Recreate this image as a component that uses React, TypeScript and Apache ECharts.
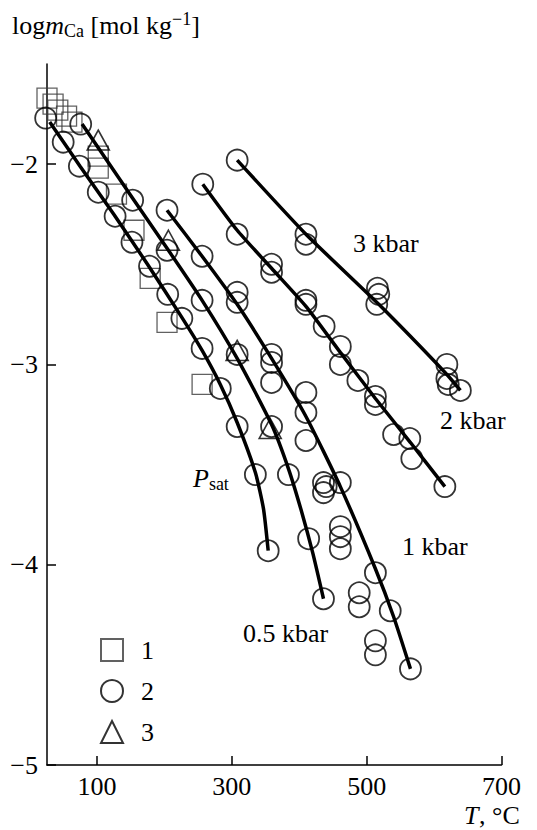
import React, { useEffect, useRef } from 'react';
import * as echarts from 'echarts';

const FONT = 'Liberation Serif, serif';

// Axis ticks
const xTicks = [100, 300, 500, 700];
const yTicks = [-5, -4, -3, -2];

// Experimental points: [T, log m]
const set1Squares: number[][] = [
  [26, -1.67], [35, -1.70], [42, -1.73], [55, -1.76], [63, -1.79],
  [102, -1.96], [102, -2.02], [129, -2.15], [155, -2.33], [179, -2.57],
  [204, -2.79], [256, -3.10],
];

const set2Circles: number[][] = [
  // along P_sat
  [24, -1.77], [50, -1.89], [74, -2.01], [102, -2.14], [127, -2.26], [152, -2.39],
  [178, -2.51], [205, -2.65], [226, -2.77], [256, -2.92], [283, -3.12], [308, -3.31],
  [335, -3.55], [354, -3.93],
  // 0.5 kbar
  [76, -1.80], [153, -2.18], [204, -2.43], [256, -2.68], [308, -2.95], [359, -3.31],
  [384, -3.55], [414, -3.87], [436, -4.17],
  // 1 kbar
  [204, -2.23], [256, -2.46], [308, -2.64], [308, -2.69], [359, -2.95], [359, -2.99],
  [359, -3.09], [410, -3.14], [410, -3.24], [410, -3.38], [436, -3.59], [440, -3.61],
  [436, -3.64], [461, -3.59], [461, -3.81], [461, -3.86], [461, -3.92], [489, -4.14],
  [489, -4.21], [513, -4.04], [535, -4.23], [513, -4.38], [513, -4.45], [565, -4.52],
  // 2 kbar
  [257, -2.10], [308, -2.35], [359, -2.50], [359, -2.54], [410, -2.68], [410, -2.70],
  [437, -2.81], [461, -2.91], [461, -3.00], [487, -3.08], [513, -3.16], [513, -3.20],
  [540, -3.35], [564, -3.37], [567, -3.47], [616, -3.61],
  // 3 kbar
  [308, -1.98], [410, -2.35], [410, -2.40], [516, -2.62], [518, -2.65], [515, -2.70],
  [619, -3.00], [619, -3.07], [621, -3.10], [639, -3.13],
];

const set3Triangles: number[][] = [
  [102, -1.88], [206, -2.38], [308, -2.93], [357, -3.32],
];

// Isobars
const curvePsat: number[][] = [
  [30, -1.79], [75, -2.01], [125, -2.25], [175, -2.50], [225, -2.76], [256, -2.93],
  [283, -3.10], [308, -3.29], [335, -3.54], [347, -3.72], [354, -3.93],
];
const curve05: number[][] = [
  [78, -1.80], [153, -2.17], [204, -2.42], [256, -2.68], [308, -2.97],
  [359, -3.30], [384, -3.52], [404, -3.74], [420, -3.94], [436, -4.17],
];
const curve1: number[][] = [
  [204, -2.23], [256, -2.46], [308, -2.70], [359, -2.97], [410, -3.26], [461, -3.61],
  [513, -4.02], [540, -4.26], [565, -4.52],
];
const curve2: number[][] = [
  [257, -2.10], [308, -2.33], [359, -2.52], [410, -2.71], [461, -2.94], [513, -3.17],
  [565, -3.39], [616, -3.61],
];
const curve3: number[][] = [
  [308, -1.98], [410, -2.35], [518, -2.70], [619, -3.05], [639, -3.13],
];

const hollow = (border: string, width: number) => ({
  color: 'rgba(0,0,0,0)',
  borderColor: border,
  borderWidth: width,
});

const curve = (data: number[][]) => ({
  type: 'line',
  data,
  smooth: 0.2,
  symbol: 'none',
  silent: true,
  lineStyle: { color: '#000', width: 3.5 },
  z: 3,
});

const minus = (v: number) => (v < 0 ? '\u2212' + Math.abs(v) : String(v));

const mainText = { fontFamily: FONT, fontSize: 26, lineHeight: 30, verticalAlign: 'middle', color: '#000' };
const italicText = { ...mainText, fontStyle: 'italic' };
const subText = { fontFamily: FONT, fontSize: 18, lineHeight: 18, verticalAlign: 'bottom', color: '#000' };
const supText = { fontFamily: FONT, fontSize: 18, lineHeight: 18, verticalAlign: 'top', color: '#000' };
const rich = { a: mainText, i: italicText, s: subText, p: supText };

const label = (x: number, y: number, text: string, italic = false) => ({
  type: 'text',
  x,
  y,
  silent: true,
  style: {
    text,
    rich,
    fill: '#000',
    fontFamily: FONT,
    fontSize: 26,
    lineHeight: 26,
    fontStyle: italic ? 'italic' : 'normal',
    align: 'left',
    verticalAlign: 'middle',
  },
});

export default function App() {
  const ref = useRef<HTMLDivElement>(null);

  useEffect(() => {
    const chart = echarts.init(ref.current!, null, { renderer: 'svg' });
    const axisLineStyle = { color: '#000', width: 1.5 };
    chart.setOption({
      animation: false,
      backgroundColor: '#fff',
      textStyle: { fontFamily: FONT },
      grid: { left: 47, right: 35.5, top: 64, bottom: 65 },
      xAxis: {
        type: 'value',
        min: 26,
        max: 700,
        axisLine: { lineStyle: axisLineStyle },
        axisTick: { inside: true, length: 9, customValues: xTicks, lineStyle: axisLineStyle },
        axisLabel: {
          customValues: xTicks,
          fontFamily: FONT,
          fontSize: 26,
          color: '#000',
          margin: 8,
        },
        splitLine: { show: false },
      },
      yAxis: {
        type: 'value',
        min: -5,
        max: -1.5,
        axisLine: { lineStyle: axisLineStyle },
        axisTick: { inside: true, length: 9, customValues: yTicks, lineStyle: axisLineStyle },
        axisLabel: {
          customValues: yTicks,
          formatter: minus,
          fontFamily: FONT,
          fontSize: 26,
          color: '#000',
          margin: 9,
        },
        splitLine: { show: false },
      },
      legend: {
        orient: 'vertical',
        left: 95,
        top: 632,
        itemWidth: 22,
        itemHeight: 22,
        itemGap: 15,
        data: ['1', '2', '3'],
        selectedMode: false,
        textStyle: { fontFamily: FONT, fontSize: 26, color: '#000', padding: [0, 0, 0, 13] },
      },
      series: [
        {
          name: '1',
          type: 'scatter',
          data: set1Squares,
          symbol: 'rect',
          symbolSize: 20,
          clip: false,
          itemStyle: hollow('#3a3a3a', 1.3),
          z: 2,
        },
        {
          name: '2',
          type: 'scatter',
          data: set2Circles,
          symbol: 'circle',
          symbolSize: 21,
          clip: false,
          itemStyle: hollow('#000', 1.8),
          z: 2,
        },
        {
          name: '3',
          type: 'scatter',
          data: set3Triangles,
          symbol: 'triangle',
          symbolSize: [22, 20],
          clip: false,
          itemStyle: hollow('#000', 1.6),
          z: 2,
        },
        curve(curvePsat),
        curve(curve05),
        curve(curve1),
        curve(curve2),
        curve(curve3),
      ],
      graphic: [
        label(12, 25, '{a|log}{i|m}{s|Ca}{a| [mol kg}{p|\u22121}{a|]}'),
        label(464, 815, 'T', true),
        label(479, 815, ', °C'),
        label(353, 243, '3 kbar'),
        label(440, 420, '2 kbar'),
        label(402, 546, '1 kbar'),
        label(243, 633, '0.5 kbar'),
        label(193, 478, '{i|P}{s|sat}'),
      ],
    });
    return () => chart.dispose();
  }, []);

  return (
    <div
      ref={ref}
      style={{ position: 'fixed', left: 0, top: 0, width: 537, height: 830 }}
    />
  );
}
